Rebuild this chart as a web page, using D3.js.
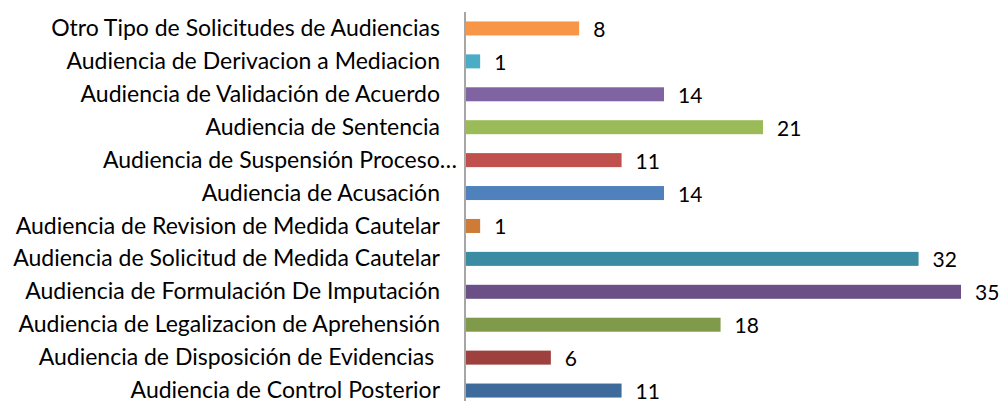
<!DOCTYPE html>
<html>
<head>
<meta charset="utf-8">
<script src="https://cdn.jsdelivr.net/npm/d3@7"></script>
<style>
  html, body { margin: 0; padding: 0; background: #fff; }
  svg { display: block; }
  text { font-family: Lato, "Open Sans", sans-serif; fill: #000; white-space: pre; }
</style>
</head>
<body>
<svg id="chart" width="1002" height="401"></svg>
<script>
const categories = [
  "Otro Tipo de Solicitudes de Audiencias",
  "Audiencia de Derivacion a Mediacion",
  "Audiencia de Validación de Acuerdo",
  "Audiencia de Sentencia",
  "Audiencia de Suspensión Proceso…",
  "Audiencia de Acusación",
  "Audiencia de Revision de Medida Cautelar",
  "Audiencia de Solicitud de Medida Cautelar",
  "Audiencia de Formulación De Imputación",
  "Audiencia de Legalizacion de Aprehensión",
  "Audiencia de Disposición de Evidencias ",
  "Audiencia de Control Posterior"
];
const values = [8, 1, 14, 21, 11, 14, 1, 32, 35, 18, 6, 11];
const colors = [
  "#F79646", "#4BACC6", "#8064A2", "#9BBB59", "#C0504D", "#4F81BD",
  "#CD7B37", "#3B8BA3", "#6A5086", "#7F9A48", "#9E413E", "#3F6A9C"
];

const svg = d3.select("#chart");
const axisX = 465;
const x = d3.scaleLinear().domain([0, 35]).range([axisX + 1, 961]);
const y = d3.scaleBand().domain(categories).range([12, 407]).paddingInner(0.5745).paddingOuter(0.5745 / 2);
const data = categories.map((c, i) => ({ c, v: values[i], col: colors[i] }));

svg.selectAll("rect.bar").data(data).enter().append("rect")
  .attr("class", "bar")
  .attr("x", x(0))
  .attr("y", d => y(d.c))
  .attr("width", d => x(d.v) - x(0))
  .attr("height", y.bandwidth())
  .attr("fill", d => d.col);

// category axis
const yAxis = d3.axisLeft(y).tickSize(0).tickPadding(0);
const ga = svg.append("g").attr("transform", `translate(${axisX},0)`).call(yAxis);
ga.select(".domain").attr("stroke", "#888").attr("stroke-width", 1.5).attr("d", "M0,12V401");
ga.selectAll(".tick text")
  .attr("font-family", "Lato, sans-serif")
  .attr("font-size", 23)
  .attr("fill", "#000")
  .attr("dy", "0.33em")
  .attr("x", d => d.endsWith("…") ? -8 : -25);

svg.selectAll("text.val").data(data).enter().append("text")
  .attr("class", "val")
  .attr("x", d => x(d.v) + 14)
  .attr("y", d => y(d.c) + y.bandwidth() / 2 + 8.5)
  .attr("font-size", 21)
  .text(d => d.v);
</script>
</body>
</html>
